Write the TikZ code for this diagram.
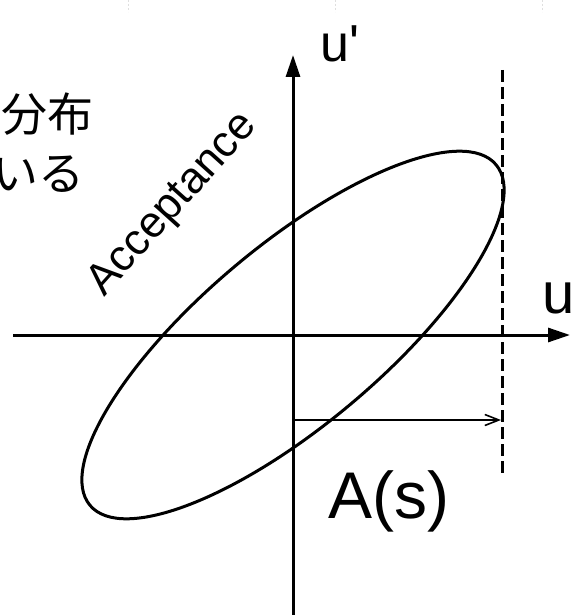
\documentclass[tikz,border=0pt]{standalone}
\usepackage{fontspec}
\setmainfont{Liberation Sans}
\newfontfamily\jpfont{Noto Sans CJK JP}
\usetikzlibrary{arrows.meta}
\begin{document}
\begin{tikzpicture}[x=1pt,y=-1pt,
  axis/.style={line width=3pt, -{Triangle[length=22pt,width=14pt]}},
  curve/.style={line width=3pt},
  limit/.style={line width=3pt, dash pattern=on 12pt off 5pt},
  span/.style={line width=1.6pt, -{Straight Barb[length=14pt,width=11pt]}},
  lbl/.style={inner sep=0pt, anchor=base west},
  faint/.style={gray!25, line width=1pt, dash pattern=on 2pt off 2pt},
  ]
\useasboundingbox (0,0) rectangle (577,615);
\clip (0,0) rectangle (577,615);
% faint marks at top
\coordinate (f1a) at (128,0); \coordinate (f1b) at (128,12);
\coordinate (f2a) at (335,0); \coordinate (f2b) at (335,12);
\coordinate (f3a) at (542,0); \coordinate (f3b) at (542,12);
\draw[faint] (f1a) -- (f1b);
\draw[faint] (f2a) -- (f2b);
\draw[faint] (f3a) -- (f3b);
% axes
\coordinate (O) at (293,335);
\coordinate (xs) at (13,335);
\coordinate (xe) at (570,335);
\coordinate (ys) at (293,615);
\coordinate (ye) at (293,55);
\draw[axis] (xs) -- (xe);
\draw[axis] (ys) -- (ye);
% acceptance ellipse
\draw[curve, rotate around={40:(O)}] (O) ellipse [x radius=265, y radius=90];
% aperture limit
\coordinate (dt) at (502,70);
\coordinate (db) at (502,475);
\draw[limit] (dt) -- (db);
\coordinate (as) at (293,420);
\coordinate (ae) at (501,420);
\draw[span] (as) -- (ae);
% labels
\node[lbl, font=\fontsize{52}{60}\selectfont] (up) at (320,62) {u\textquotesingle};
\node[lbl, font=\fontsize{58}{68}\selectfont] (ul) at (542,313) {u};
\node[lbl, font=\fontsize{66}{76}\selectfont] (As) at (328,518) {A(s)};
\node[inner sep=0pt, anchor=base, rotate=48, font=\fontsize{44}{50}\selectfont] (acc) at (181,212) {Acceptance};
\node[inner sep=0pt, anchor=west, font=\jpfont\fontsize{46}{50}\selectfont] (j1) at (1,114) {分布};
\node[inner sep=0pt, anchor=west, font=\jpfont\fontsize{46}{50}\selectfont] (j2) at (-8,174) {いる};
\end{tikzpicture}
\end{document}
